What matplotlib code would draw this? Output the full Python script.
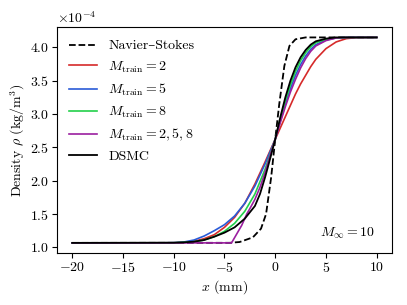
"""
Density profiles across a Mach 10 shock
"""

import matplotlib.pyplot as plt
from matplotlib.ticker import ScalarFormatter

plt.rcParams['font.family'] = ['cmr10', 'DejaVu Serif']
plt.rcParams['mathtext.fontset'] = 'cm'
plt.rcParams['axes.formatter.use_mathtext'] = True
plt.rcParams['font.size'] = 10
plt.rcParams['xtick.major.pad'] = 2.5
plt.rcParams['ytick.major.pad'] = 2.5

# values, density in 1e-4 kg/m^3, x in mm
ns_x = [-20, -4.5, -3.5, -2.2, -1.4, -0.9, -0.4, 0, 0.4, 0.9, 1.4, 2.0, 3.0, 10]
ns_rho = [1.067, 1.068, 1.08, 1.15, 1.28, 1.50, 2.05, 2.62, 3.15, 3.72, 4.02, 4.12, 4.148, 4.148]

m2_x = [-20, -10, -9, -8, -7, -6, -5, -4, -3, -2, -1, 0, 0.5, 1, 1.5, 2, 2.5, 3, 3.5, 4, 5, 6, 7, 8, 10]
m2_rho = [1.067, 1.068, 1.075, 1.09, 1.13, 1.19, 1.30, 1.45, 1.66, 1.95, 2.28, 2.62, 2.79, 2.96, 3.13, 3.30,
          3.45, 3.58, 3.71, 3.82, 3.98, 4.08, 4.13, 4.145, 4.148]

m5_x = [-20, -11, -10, -9, -8, -7, -6, -5, -4, -3, -2, -1, 0, 0.5, 1, 1.5, 2, 2.5, 3, 3.5, 4, 5, 6, 7, 10]
m5_rho = [1.067, 1.068, 1.07, 1.08, 1.11, 1.17, 1.25, 1.34, 1.47, 1.66, 1.92, 2.25, 2.62, 2.89, 3.15, 3.38,
          3.58, 3.74, 3.87, 3.97, 4.04, 4.11, 4.14, 4.148, 4.148]

m8_x = [-20, -10, -9, -8, -7, -6, -5, -4, -3, -2, -1, 0, 0.5, 1, 1.5, 2, 2.5, 3, 3.5, 4, 5, 6, 7, 10]
m8_rho = [1.067, 1.068, 1.075, 1.085, 1.11, 1.16, 1.24, 1.36, 1.54, 1.80, 2.17, 2.62, 2.92, 3.20, 3.44, 3.64,
          3.80, 3.92, 4.01, 4.07, 4.12, 4.14, 4.148, 4.148]

mall_x = [-20, -4.3, -3.3, -2.8, -2.5, -2, -1.5, -1, -0.5, 0, 0.5, 1, 1.5, 2, 2.5, 3, 3.5, 4, 5, 6, 7, 10]
mall_rho = [1.067, 1.067, 1.33, 1.50, 1.58, 1.72, 1.90, 2.12, 2.38, 2.62, 2.87, 3.11, 3.33, 3.52, 3.69, 3.83,
            3.94, 4.02, 4.10, 4.14, 4.148, 4.148]

dsmc_x = [-20, -10, -9, -8, -7, -6, -5, -4, -3, -2, -1.5, -1, -0.5, 0, 0.5, 1, 1.5, 2, 2.5, 3, 3.5, 4, 5, 6, 10]
dsmc_rho = [1.067, 1.07, 1.075, 1.085, 1.11, 1.16, 1.22, 1.30, 1.43, 1.62, 1.80, 2.05, 2.33, 2.62, 2.95, 3.25,
            3.50, 3.70, 3.85, 3.96, 4.04, 4.09, 4.13, 4.148, 4.148]

fig = plt.figure(figsize=(4.07, 3.05), dpi=100)
ax = fig.add_axes([0.140, 0.170, 0.823, 0.741])

ax.plot(ns_x, [v * 1e-4 for v in ns_rho], 'k--', lw=1.3, label='Navier–Stokes')
ax.plot(m2_x, [v * 1e-4 for v in m2_rho], color='#d62a2a', lw=1.2, label=r'$M_\mathrm{train} = 2$')
ax.plot(m5_x, [v * 1e-4 for v in m5_rho], color='#2a5bd7', lw=1.2, label=r'$M_\mathrm{train} = 5$')
ax.plot(m8_x, [v * 1e-4 for v in m8_rho], color='#22d04a', lw=1.2, label=r'$M_\mathrm{train} = 8$')
ax.plot(mall_x, [v * 1e-4 for v in mall_rho], color='#9b1fa0', lw=1.2, label=r'$M_\mathrm{train} = 2, 5, 8$')
ax.plot(dsmc_x, [v * 1e-4 for v in dsmc_rho], color='k', lw=1.3, label='DSMC')

fmt = ScalarFormatter(useMathText=True)
fmt.set_powerlimits((0, 0))
ax.yaxis.set_major_formatter(fmt)
ax.set_xticks([-20, -15, -10, -5, 0, 5, 10])

ax.set_xlabel(r'$x$ (mm)', labelpad=2)
ax.set_ylabel(r'Density $\rho$ (kg/m$^3$)', labelpad=2)
ax.text(0.95, 0.088, r'$M_\infty = 10$', transform=ax.transAxes, ha='right', va='center')
ax.legend(loc='upper left', frameon=False)

fig.savefig('out.png', dpi=100)
